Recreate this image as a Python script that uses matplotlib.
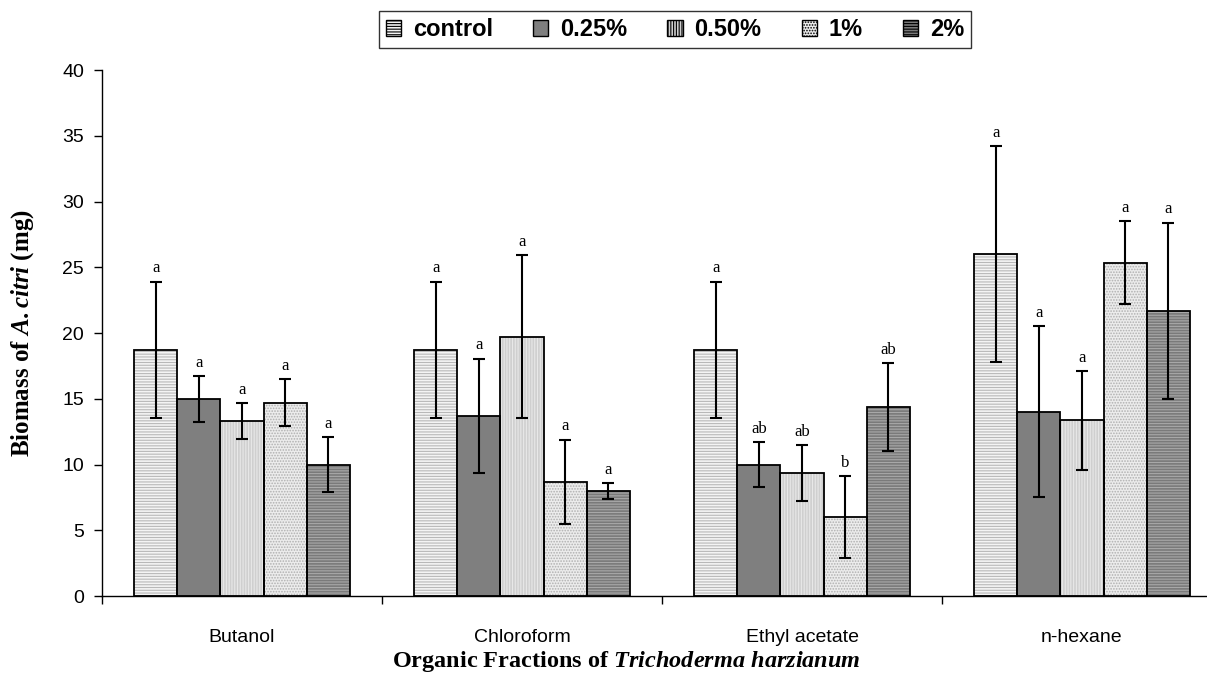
import numpy as np
import matplotlib
matplotlib.use("Agg")
import matplotlib.pyplot as plt
from matplotlib.patches import Patch

plt.rcParams['font.family'] = ['Liberation Sans', 'DejaVu Sans']
plt.rcParams['mathtext.fontset'] = 'custom'
plt.rcParams['mathtext.rm'] = 'Liberation Serif:bold'
plt.rcParams['mathtext.it'] = 'Liberation Serif:italic:bold'
plt.rcParams['mathtext.bf'] = 'Liberation Serif:bold'
plt.rcParams['hatch.linewidth'] = 0.8

##### Data #####
fractions = ['Butanol', 'Chloroform', 'Ethyl acetate', 'n-hexane']
treatments = ['control', '0.25%', '0.50%', '1%', '2%']

control = [18.7, 18.7, 18.7, 26.0]
c025 = [15.0, 13.7, 10.0, 14.0]
c050 = [13.3, 19.7, 9.35, 13.35]
c1 = [14.7, 8.7, 6.0, 25.35]
c2 = [10.0, 8.0, 14.35, 21.7]

err_control = [5.2, 5.2, 5.2, 8.2]
err_025 = [1.75, 4.35, 1.7, 6.5]
err_050 = [1.35, 6.2, 2.15, 3.75]
err_1 = [1.8, 3.2, 3.1, 3.15]
err_2 = [2.1, 0.6, 3.35, 6.7]

letters_control = ['a', 'a', 'a', 'a']
letters_025 = ['a', 'a', 'ab', 'a']
letters_050 = ['a', 'a', 'ab', 'a']
letters_1 = ['a', 'a', 'b', 'a']
letters_2 = ['a', 'a', 'ab', 'a']

values = [control, c025, c050, c1, c2]
errors = [err_control, err_025, err_050, err_1, err_2]
letters = [letters_control, letters_025, letters_050, letters_1, letters_2]

# fill colour, hatch, hatch colour for each treatment
styles = [
    ('#f4f4f4', '------', '#b8b8b8'),
    ('#7f7f7f', None, None),
    ('#cfcfcf', '||||||', '#e8e8e8'),
    ('#ececec', '......', '#b0b0b0'),
    ('#7a7a7a', '------', '#a8a8a8'),
]

fig = plt.figure(figsize=(12.07, 6.74), dpi=100)
# plot area runs a bit past the right edge, as in the original
ax = fig.add_axes([102 / 1207, 0.1157, 1120 / 1207, 0.7804])

x = np.arange(len(fractions))
w = 0.154

for i in range(len(treatments)):
    pos = x + (i - 2) * w
    fc, hatch, hc = styles[i]
    # fill + hatch
    ax.bar(pos, values[i], w, color=fc, hatch=hatch, edgecolor=hc if hc else fc,
           linewidth=0, zorder=2)
    # outline
    ax.bar(pos, values[i], w, fill=False, edgecolor='black', linewidth=1.3, zorder=3)
    ax.errorbar(pos, values[i], yerr=errors[i], fmt='none', ecolor='black',
                elinewidth=1.5, capsize=4, capthick=1.5, zorder=4)
    for p, v, e, t in zip(pos, values[i], errors[i], letters[i]):
        ax.text(p, v + e + 0.4, t, ha='center', va='bottom', fontsize=12,
                family='Liberation Serif', zorder=5)

ax.set_xlim(-0.5, 3.5)
ax.set_ylim(0, 40)
ax.set_yticks(range(0, 41, 5))
ax.set_xticks(np.arange(-0.5, 4, 1))
ax.set_xticklabels([])
ax.set_xticks(x, minor=True)
ax.set_xticklabels(fractions, minor=True)
ax.tick_params(axis='x', which='minor', length=0, pad=24, labelsize=14)
ax.tick_params(axis='x', which='major', length=6, width=1)
ax.tick_params(axis='y', length=6, width=1, labelsize=14, pad=7)
ax.spines['top'].set_visible(False)
ax.spines['right'].set_visible(False)
for s in ['left', 'bottom']:
    ax.spines[s].set_linewidth(1)

ax.set_ylabel(r'Biomass of $\mathit{A.citri}$ (mg)', family='Liberation Serif',
              fontweight='bold', fontsize=18)
ax.yaxis.set_label_coords(-66 / 1120, 0.5)
fig.text(626 / 1207, 1 - 662 / 674,
         r'Organic Fractions of $\mathit{Trichoderma\ harzianum}$',
         family='Liberation Serif', fontweight='bold', fontsize=17.5,
         ha='center', va='center')

handles = []
for fc, hatch, hc in styles:
    handles.append(Patch(facecolor=fc, hatch=hatch, edgecolor='black', linewidth=1))
leg = fig.legend(handles, treatments, loc='upper center',
                 bbox_to_anchor=(675 / 1207, 1 - 11 / 674),
                 ncol=5, frameon=True, fancybox=False, edgecolor='black',
                 prop={'family': 'Liberation Sans', 'weight': 'bold', 'size': 17},
                 handlelength=0.65, handleheight=0.65, handletextpad=0.5,
                 columnspacing=1.7, borderpad=0.3, borderaxespad=0)
leg.get_frame().set_linewidth(1)

fig.savefig('out.png', dpi=100)
